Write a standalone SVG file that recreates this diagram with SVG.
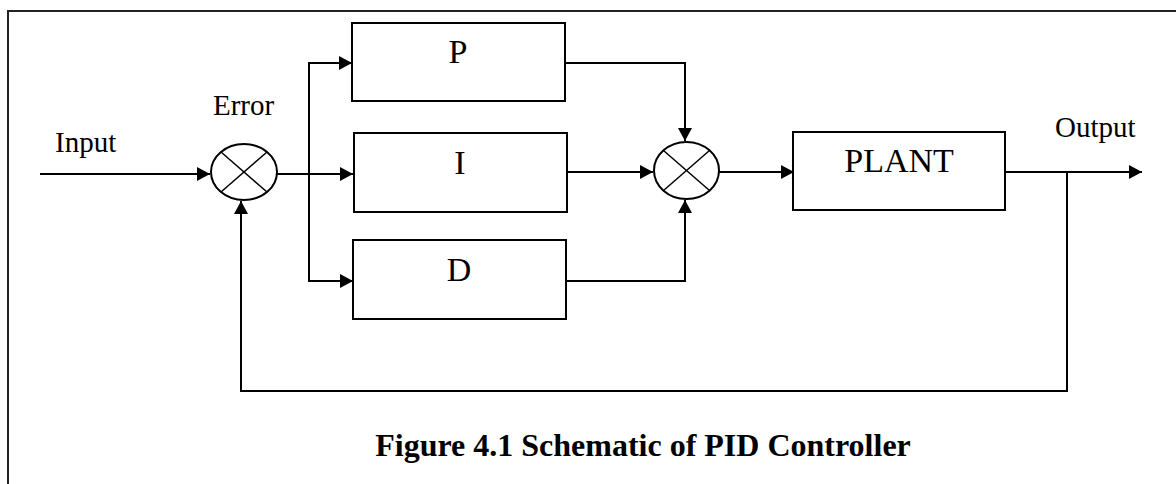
<svg xmlns="http://www.w3.org/2000/svg" width="1176" height="484" viewBox="0 0 1176 484">
<style>
.box{fill:#fff;stroke:#000;stroke-width:2}
.sum{fill:#fff;stroke:#000;stroke-width:2}
.x{stroke:#000;stroke-width:1.5}
.c{fill:none;stroke:#000;stroke-width:2}
.lbl{font-family:"Liberation Serif","Times New Roman",serif;font-size:29px;fill:#000}
.blbl{font-family:"Liberation Serif","Times New Roman",serif;font-size:34px;fill:#000;text-anchor:middle}
.cap{font-family:"Liberation Serif","Times New Roman",serif;font-size:32px;font-weight:bold;fill:#000;text-anchor:middle}
</style>
<defs>
<marker id="ah" markerUnits="userSpaceOnUse" markerWidth="14" markerHeight="14" refX="13" refY="7" orient="auto">
<path d="M0,0 L13,7 L0,14 z" fill="#000"/>
</marker>
</defs>
<rect x="8" y="11" width="1200" height="500" fill="none" stroke="#222" stroke-width="2"/>
<g id="connectors">
<path class="c" d="M40,174 H210" marker-end="url(#ah)"/>
<path class="c" d="M277,174 H353" marker-end="url(#ah)"/>
<path class="c" d="M309,174 V63 H352" marker-end="url(#ah)"/>
<path class="c" d="M309,174 V281 H353" marker-end="url(#ah)"/>
<path class="c" d="M563,63 H685 V141" marker-end="url(#ah)"/>
<path class="c" d="M567,172 H653" marker-end="url(#ah)"/>
<path class="c" d="M566,281 H685 V200" marker-end="url(#ah)"/>
<path class="c" d="M719,172 H794" marker-end="url(#ah)"/>
<path class="c" d="M1005,172 H1142" marker-end="url(#ah)"/>
<path class="c" d="M1067,172 V391 H241 V201" marker-end="url(#ah)"/>
</g>
<g id="error-sum">
<ellipse class="sum" cx="244" cy="172" rx="33" ry="28"/>
<line class="x" x1="221" y1="152" x2="267" y2="192"/>
<line class="x" x1="221" y1="192" x2="267" y2="152"/>
</g>
<g id="sum2">
<ellipse class="sum" cx="686.5" cy="170.5" rx="32.5" ry="28.5"/>
<line class="x" x1="663.5" y1="150.5" x2="709.5" y2="190.5"/>
<line class="x" x1="663.5" y1="190.5" x2="709.5" y2="150.5"/>
</g>
<g id="P"><rect class="box" x="352" y="23" width="213" height="78"/><text class="blbl" x="458" y="63">P</text></g>
<g id="I"><rect class="box" x="354" y="133" width="213" height="79"/><text class="blbl" x="460" y="174">I</text></g>
<g id="D"><rect class="box" x="353" y="240" width="213" height="79"/><text class="blbl" x="459" y="281">D</text></g>
<g id="PLANT"><rect class="box" x="793" y="132" width="212" height="78"/><text class="blbl" x="899" y="172">PLANT</text></g>
<text class="lbl" x="55" y="152">Input</text>
<text class="lbl" x="213" y="115">Error</text>
<text class="lbl" x="1055" y="137">Output</text>
<text class="cap" x="643" y="456">Figure 4.1 Schematic of PID Controller</text>
</svg>
